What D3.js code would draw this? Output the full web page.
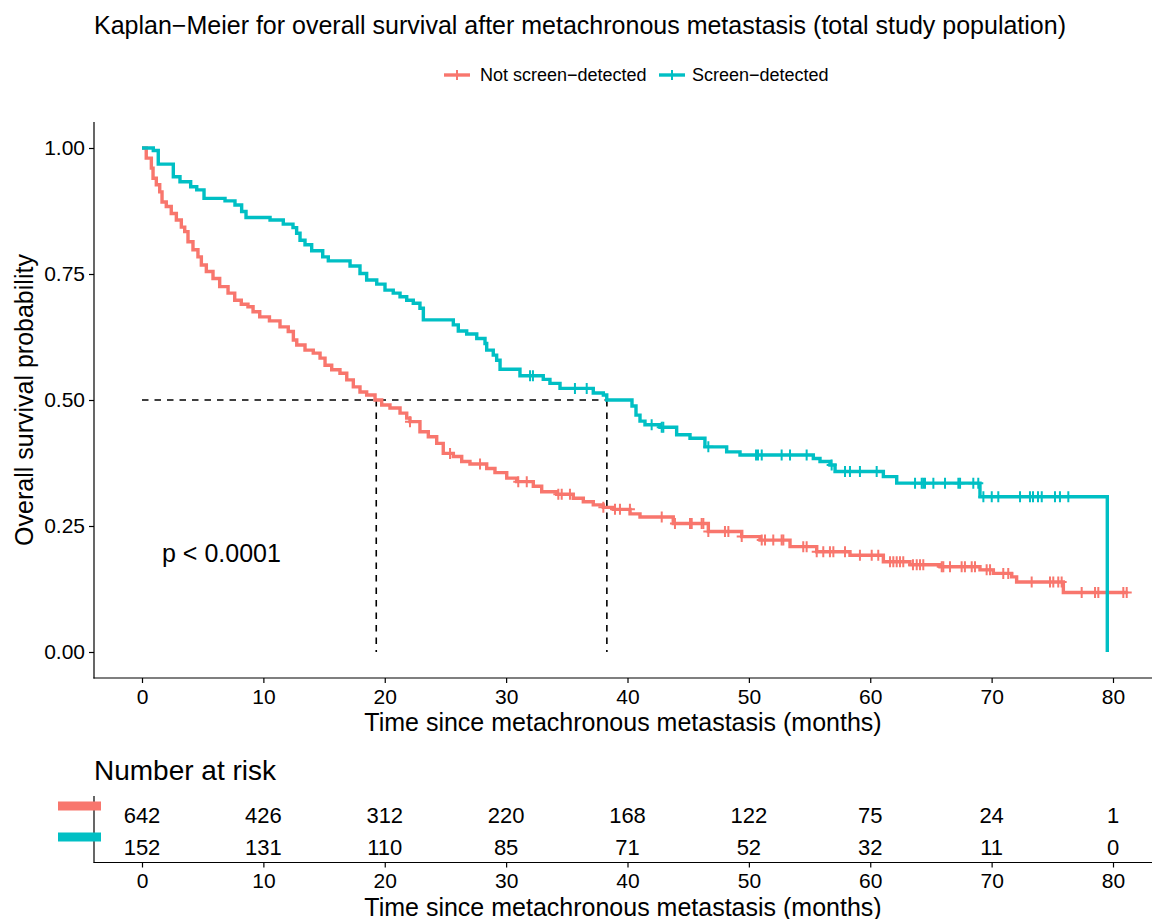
<!DOCTYPE html>
<html><head><meta charset="utf-8">
<script src="https://cdn.jsdelivr.net/npm/d3@7"></script>
<style>body{margin:0;background:#fff}svg{display:block}text{font-family:"Liberation Sans",Arial,sans-serif;fill:#000}</style>
</head><body><svg id="c" width="1152" height="919"></svg>
<script>
// ---- data ----
const groups = ["Not screen\u2212detected", "Screen\u2212detected"];
const colors = ["#F8766D", "#00BFC4"];
// Not screen-detected: step times and survival after each step
const redTimes = [0,0.35,0.77,0.91,1.18,1.46,1.65,2.00,2.41,2.83,3.24,3.52,3.79,4.20,4.61,4.89,5.30,5.85,6.40,7.09,7.64,8.18,8.73,9.15,9.70,10.5,11.37,12.05,12.47,12.75,13.43,14.11,14.67,15.08,15.63,16.31,16.87,17.41,17.96,18.51,19.20,19.75,20.43,21.26,21.81,22.08,22.90,23.59,24.28,24.82,25.65,26.34,27.02,28.40,29.08,30.05,30.87,32.24,32.93,34.17,35.53,36.36,37.18,38.01,38.83,40.21,41.03,43.77,46.66,49.41,50.92,53.39,55.59,58.33,61.08,63.27,65.75,69.04,70.14,71.65,72.06,75.91,81.2];
const redSurv  = [1,0.980,0.960,0.940,0.927,0.913,0.893,0.884,0.870,0.857,0.843,0.834,0.814,0.798,0.784,0.768,0.755,0.741,0.725,0.712,0.698,0.690,0.685,0.675,0.665,0.657,0.645,0.636,0.619,0.609,0.599,0.593,0.583,0.569,0.560,0.553,0.540,0.526,0.516,0.510,0.500,0.490,0.484,0.474,0.464,0.457,0.437,0.427,0.414,0.394,0.388,0.378,0.373,0.364,0.356,0.345,0.338,0.329,0.318,0.313,0.305,0.298,0.292,0.287,0.283,0.274,0.268,0.255,0.239,0.229,0.222,0.209,0.199,0.192,0.179,0.173,0.169,0.163,0.156,0.149,0.139,0.118,0.118];
const redCensor = [22.08,25.38,27.85,31.0,31.7,34.3,34.58,35.26,38.01,38.97,39.38,40.2,42.82,43.91,45.15,45.29,46.11,46.25,46.66,48.03,48.31,49.41,51.06,51.33,52.01,52.70,52.84,54.48,54.76,55.59,56.13,56.68,56.96,57.92,59.15,60.12,60.66,61.63,61.90,62.18,62.45,62.72,63.52,63.83,64.10,64.37,65.89,66.02,66.57,67.53,67.80,68.36,68.63,69.59,69.87,70.96,71.37,73.30,74.81,75.08,75.49,75.77,77.42,78.52,78.79,80.85,81.13];
// Screen-detected
const tealTimes = [0,0.93,1.34,2.58,3.13,4.01,4.51,5.11,6.84,7.66,8.21,8.57,10.55,11.64,12.44,12.74,13.02,13.43,13.98,14.89,15.35,17.14,17.96,18.51,19.34,20.02,20.70,21.26,21.81,22.35,22.90,23.18,25.65,26.06,26.75,27.58,28.26,28.40,28.94,29.22,29.50,31.14,33.06,33.61,34.44,37.18,38.01,38.29,40.37,40.70,41.03,41.44,42.68,44.05,45.15,46.38,48.17,49.27,55.31,55.86,56.68,57.10,61.08,62.18,69.04,79.53];
const tealSurv  = [1,0.995,0.968,0.943,0.933,0.923,0.917,0.900,0.895,0.887,0.874,0.862,0.857,0.849,0.842,0.831,0.817,0.808,0.796,0.784,0.776,0.766,0.751,0.738,0.730,0.718,0.712,0.705,0.698,0.692,0.682,0.659,0.649,0.637,0.631,0.622,0.612,0.599,0.589,0.579,0.561,0.548,0.541,0.533,0.523,0.514,0.510,0.500,0.488,0.470,0.458,0.451,0.446,0.431,0.424,0.407,0.397,0.391,0.384,0.378,0.371,0.358,0.348,0.335,0.308,0];
const tealCensor = [31.97,32.21,35.67,36.64,41.99,42.82,42.95,46.66,50.59,50.75,51.06,52.70,53.39,54.76,56.82,57.92,58.33,59.15,60.53,63.69,64.24,64.37,64.51,65.20,66.16,67.26,67.40,68.49,68.90,69.32,70.01,70.55,72.34,73.16,73.41,73.82,74.13,75.22,75.63,76.32];
const medians = [19.3, 38.3];
const xTicks = [0,10,20,30,40,50,60,70,80];
const yTicks = [0,0.25,0.5,0.75,1];
const riskTimes = [0,10,20,30,40,50,60,70,80];
const redRisk = [642,426,312,220,168,122,75,24,1];
const tealRisk = [152,131,110,85,71,52,32,11,0];
const pText = "p < 0.0001";

// ---- layout ----
const svg = d3.select("#c");
const L = 94, R = 1152, T = 122, B = 678;
const x = d3.scaleLinear().domain([0,80]).range([142,1113]);
const y = d3.scaleLinear().domain([0,1]).range([652,148]);
const FS = 25;

svg.append("text").attr("x",L).attr("y",34).attr("font-size",FS).text("Kaplan\u2212Meier for overall survival after metachronous metastasis (total study population)");

// legend
const legX = [[444,480],[659,692]];
groups.forEach((g,i)=>{
  const lg = svg.append("g");
  const [kx,tx] = legX[i];
  lg.append("line").attr("x1",kx).attr("x2",kx+26).attr("y1",75).attr("y2",75).attr("stroke",colors[i]).attr("stroke-width",3.4);
  lg.append("path").attr("d",`M${kx+13},${70}V${80}M${kx+8},75H${kx+18}`).attr("stroke",colors[i]).attr("stroke-width",2);
  lg.append("text").attr("x",tx).attr("y",75).attr("dy","0.35em").attr("font-size",18).text(g);
});

// axes
const ya = svg.append("g").attr("transform",`translate(${L},0)`).call(d3.axisLeft(y).tickValues(yTicks).tickFormat(d3.format(".2f")).tickSize(5).tickPadding(4));
ya.select(".domain").remove();
ya.selectAll("text").attr("font-size",21).style("font-family",'"Liberation Sans",Arial,sans-serif').attr("fill","#000");
ya.selectAll("line").attr("stroke","#000").attr("stroke-width",1.2);
svg.append("line").attr("x1",L).attr("x2",L).attr("y1",T).attr("y2",B+0.6).attr("stroke","#000").attr("stroke-width",1.2);

function xAxisAt(yy){
  const xa = svg.append("g").attr("transform",`translate(0,${yy})`).call(d3.axisBottom(x).tickValues(xTicks).tickSize(5).tickPadding(6));
  xa.select(".domain").remove();
  xa.selectAll("text").attr("font-size",21).style("font-family",'"Liberation Sans",Arial,sans-serif').attr("fill","#000");
  xa.selectAll("line").attr("stroke","#000").attr("stroke-width",1.2);
  svg.append("line").attr("x1",L-0.6).attr("x2",R).attr("y1",yy).attr("y2",yy).attr("stroke","#000").attr("stroke-width",1.2);
}
xAxisAt(B);

svg.append("text").attr("x",(L+R)/2).attr("y",731).attr("text-anchor","middle").attr("font-size",FS).text("Time since metachronous metastasis (months)");
svg.append("text").attr("transform",`translate(33,${(T+B)/2}) rotate(-90)`).attr("text-anchor","middle").attr("font-size",FS).text("Overall survival probability");

// median lines
const dash = "6.5,6";
svg.append("line").attr("x1",x(0)).attr("x2",x(d3.max(medians))).attr("y1",y(0.5)).attr("y2",y(0.5)).attr("stroke","#000").attr("stroke-width",1.6).attr("stroke-dasharray",dash);
medians.forEach(m=>{
  svg.append("line").attr("x1",x(m)).attr("x2",x(m)).attr("y1",y(0.5)).attr("y2",y(0)).attr("stroke","#000").attr("stroke-width",1.6).attr("stroke-dasharray",dash);
});

// curves
const series = [
  {t:redTimes,s:redSurv,c:redCensor,col:colors[0]},
  {t:tealTimes,s:tealSurv,c:tealCensor,col:colors[1]}
];
const line = d3.line().x(d=>x(d[0])).y(d=>y(d[1])).curve(d3.curveStepAfter);
series.forEach(S=>{
  const pts = S.t.map((t,i)=>[t,S.s[i]]);
  svg.append("path").attr("d",line(pts)).attr("fill","none").attr("stroke",S.col).attr("stroke-width",3.4);
  const surv = t => { let v = S.s[0]; for(let i=0;i<S.t.length;i++){ if(S.t[i]<=t) v=S.s[i]; } return v; };
  svg.append("g").selectAll("path").data(S.c).join("path")
    .attr("d",t=>{const px=x(t),py=y(surv(t));return `M${px},${py-5.5}V${py+5.5}M${px-5},${py}H${px+5}`;})
    .attr("stroke",S.col).attr("stroke-width",2).attr("fill","none");
});

svg.append("text").attr("x",162).attr("y",562).attr("font-size",FS).text(pText);

// risk table
svg.append("text").attr("x",L).attr("y",780).attr("font-size",28).text("Number at risk");
const RT = 796, RB = 862.5;
svg.append("line").attr("x1",L).attr("x2",L).attr("y1",RT).attr("y2",RB).attr("stroke","#000").attr("stroke-width",1.2);
const rowY = [815.5, 847.5];
const barY = [806, 837];
[redRisk, tealRisk].forEach((arr,i)=>{
  svg.append("rect").attr("x",58).attr("y",barY[i]-4.5).attr("width",43).attr("height",9).attr("fill",colors[i]);
  svg.append("g").selectAll("text").data(arr).join("text")
    .attr("x",(d,j)=>x(riskTimes[j])).attr("y",rowY[i]).attr("dy","0.35em").attr("text-anchor","middle").attr("font-size",22).text(d=>d);
});
xAxisAt(RB);
svg.append("text").attr("x",(L+R)/2).attr("y",916).attr("text-anchor","middle").attr("font-size",FS).text("Time since metachronous metastasis (months)");
</script></body></html>
